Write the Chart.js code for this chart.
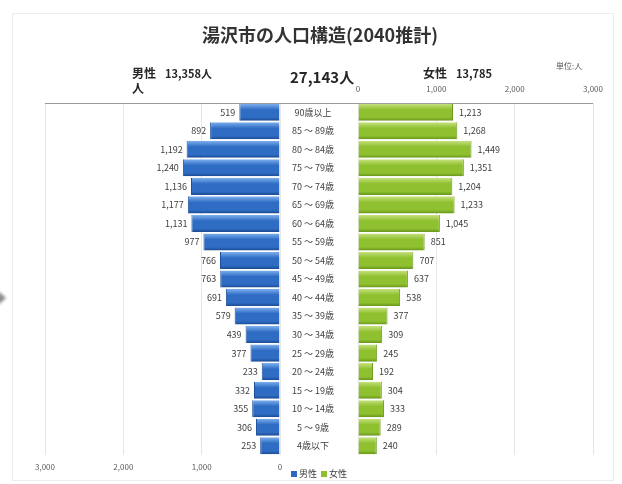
<!DOCTYPE html>
<html lang="ja">
<head>
<meta charset="utf-8">
<title>湯沢市の人口構造(2040推計)</title>
<script src="https://cdn.jsdelivr.net/npm/chart.js@4.4.0/dist/chart.umd.min.js"></script>
<style>
  body { margin: 0; width: 622px; height: 484px; overflow: hidden; position: relative; background: #fff;
         font-family: "Noto Sans CJK JP", "Noto Sans", sans-serif; color: #262626; }
  canvas { position: absolute; left: 0; top: 0; }
  .frame { position: absolute; left: 12px; top: 13px; width: 600px; height: 466px; border: 1px solid #ececec; }
  .arrow { position: absolute; left: -2px; top: 291px; width: 0; height: 0;
           border-top: 7px solid transparent; border-bottom: 7px solid transparent; border-left: 8px solid #8a8a8a;
           filter: blur(1.5px); }
  .t { position: absolute; white-space: nowrap; line-height: 1; }
  .title { left: 0; width: 640px; text-align: center; top: 25px; font-size: 18px; font-weight: bold; color: #333; }
  .hd { font-size: 12px; font-weight: bold; color: #262626; }
  .hd span { font-size: 11px; margin-left: 9px; }
  .unit { font-size: 8px; color: #595959; left: 556px; top: 62px; }
  .legend { left: 291px; top: 469px; font-size: 9px; color: #404040; }
  .legend i { display: inline-block; width: 6px; height: 6px; margin-right: 2px; vertical-align: 0px; }
</style>
</head>
<body>
<div class="frame"></div>
<div class="arrow"></div>
<canvas id="male" width="622" height="484"></canvas>
<canvas id="female" width="622" height="484"></canvas>

<div class="t title">湯沢市の人口構造(2040推計)</div>
<div class="t hd" style="left:132px; top:67px;">男性<span>13,358人</span></div>
<div class="t hd" style="left:132px; top:82px;">人</div>
<div class="t hd" style="left:290px; top:69px; font-size:15px;">27,143人</div>
<div class="t hd" style="left:423px; top:67px;">女性<span>13,785</span></div>
<div class="t unit">単位:人</div>
<div class="t legend"><i style="background:#2c68bf"></i>男性&nbsp;&nbsp;<i style="background:#8cbf2a"></i>女性</div>

<script>
// 데이터 (上から順)
const ageLabels = [
  '90歳以上', '85 ～ 89歳', '80 ～ 84歳', '75 ～ 79歳', '70 ～ 74歳', '65 ～ 69歳',
  '60 ～ 64歳', '55 ～ 59歳', '50 ～ 54歳', '45 ～ 49歳', '40 ～ 44歳', '35 ～ 39歳',
  '30 ～ 34歳', '25 ～ 29歳', '20 ～ 24歳', '15 ～ 19歳', '10 ～ 14歳', '5 ～ 9歳', '4歳以下'
];
const maleValues = [519, 892, 1192, 1240, 1136, 1177, 1131, 977, 766, 763, 691, 579, 439, 377, 233, 332, 355, 306, 253];
const femaleValues = [1213, 1268, 1449, 1351, 1204, 1233, 1045, 851, 707, 637, 538, 377, 309, 245, 192, 304, 333, 289, 240];
const axisMax = 3000;
const axisStep = 1000;

const FONT = '"Noto Sans CJK JP", "Noto Sans", sans-serif';
const barPct = 0.92;

// 막대 그라데이션 (위 밝게, 아래 어둡게)
function barGradient(light, mid, dark) {
  return (ctx) => {
    const chart = ctx.chart;
    const yScale = chart.scales.y;
    if (ctx.type !== 'data' || !yScale || !chart.chartArea) return mid;
    const y = yScale.getPixelForValue(ctx.dataIndex);
    const h = yScale.height / ageLabels.length * barPct / 2;
    const g = chart.ctx.createLinearGradient(0, y - h, 0, y + h);
    g.addColorStop(0, light);
    g.addColorStop(0.35, mid);
    g.addColorStop(0.8, mid);
    g.addColorStop(1, dark);
    return g;
  };
}

// 값 레이블
const valueLabels = {
  id: 'valueLabels',
  afterDatasetsDraw(chart, args, opts) {
    const c = chart.ctx;
    const meta = chart.getDatasetMeta(0);
    const vals = chart.data.datasets[0].data;
    c.save();
    c.font = '9px ' + FONT;
    c.fillStyle = '#404040';
    c.textBaseline = 'middle';
    c.textAlign = opts.side === 'left' ? 'right' : 'left';
    meta.data.forEach((bar, i) => {
      const x = opts.side === 'left' ? bar.x - 4 : bar.x + 6;
      c.fillText(vals[i].toLocaleString('en-US'), x, bar.y);
    });
    c.restore();
  }
};

// 위쪽 가로선
const topLine = {
  id: 'topLine',
  beforeDatasetsDraw(chart, args, opts) {
    const c = chart.ctx;
    const a = chart.chartArea;
    const left = opts.fromAxis ? chart.scales.y.left : a.left;
    c.save();
    c.strokeStyle = '#9a9a9a';
    c.lineWidth = 1;
    c.beginPath();
    c.moveTo(left, a.top + 0.5);
    c.lineTo(a.right, a.top + 0.5);
    c.stroke();
    c.restore();
  }
};

const tickFont = { family: FONT, size: 8 };

// 남성 (왼쪽)
new Chart(document.getElementById('male'), {
  type: 'bar',
  data: {
    labels: ageLabels,
    datasets: [{
      label: '男性',
      data: maleValues,
      backgroundColor: barGradient('#7eb0ee', '#2f6dc4', '#1b4a92'),
      borderColor: '#1d4f98',
      borderWidth: { left: 1, right: 0, top: 0, bottom: 0 },
      barPercentage: barPct,
      categoryPercentage: 1.0
    }]
  },
  options: {
    indexAxis: 'y',
    responsive: false,
    animation: false,
    layout: { padding: { left: 45, right: 342, top: 103, bottom: 9 } },
    plugins: {
      legend: { display: false },
      tooltip: { enabled: false },
      valueLabels: { side: 'left' },
      topLine: { fromAxis: false }
    },
    scales: {
      x: {
        position: 'bottom',
        reverse: true,
        min: 0,
        max: axisMax,
        ticks: { stepSize: axisStep, font: tickFont, color: '#595959', padding: 7 },
        grid: { color: '#e6e6e6', drawTicks: false },
        border: { display: false },
        afterFit: (s) => { s.height = 20; }
      },
      y: { display: false }
    }
  },
  plugins: [valueLabels, topLine]
});

// 여성 (오른쪽)
new Chart(document.getElementById('female'), {
  type: 'bar',
  data: {
    labels: ageLabels,
    datasets: [{
      label: '女性',
      data: femaleValues,
      backgroundColor: barGradient('#c6e27e', '#8fc02f', '#67951a'),
      borderColor: '#6a961c',
      borderWidth: { left: 0, right: 1, top: 0, bottom: 0 },
      barPercentage: barPct,
      categoryPercentage: 1.0
    }]
  },
  options: {
    indexAxis: 'y',
    responsive: false,
    animation: false,
    layout: { padding: { left: 280, right: 29, top: 83, bottom: 29 } },
    plugins: {
      legend: { display: false },
      tooltip: { enabled: false },
      valueLabels: { side: 'right' },
      topLine: { fromAxis: true }
    },
    scales: {
      x: {
        position: 'top',
        min: 0,
        max: axisMax,
        ticks: { stepSize: axisStep, font: tickFont, color: '#595959', padding: 9 },
        grid: { color: '#e6e6e6', drawTicks: false },
        border: { display: false },
        afterFit: (s) => { s.height = 20; }
      },
      y: {
        position: 'left',
        grid: { display: false },
        border: { display: false },
        ticks: { font: { family: FONT, size: 9 }, color: '#404040', crossAlign: 'center', padding: 16 },
        afterFit: (s) => { s.width = 78; }
      }
    }
  },
  plugins: [valueLabels, topLine]
});
</script>
</body>
</html>
